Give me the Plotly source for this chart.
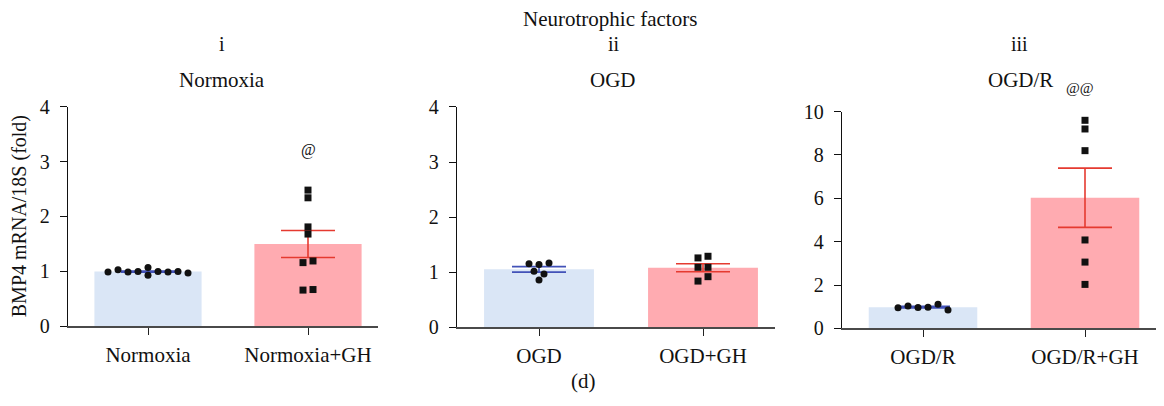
import numpy as np
import plotly.graph_objects as go

# ---- data: BMP4 mRNA / 18S (fold), individual replicates ----
groups_i = ["Normoxia", "Normoxia+GH"]
normoxia = [0.99, 1.03, 0.99, 1.00, 1.07, 0.93, 1.00, 0.99, 1.00, 0.97]
normoxia_gh = [2.48, 2.34, 1.81, 1.68, 1.16, 1.19, 0.66, 0.67]

groups_ii = ["OGD", "OGD+GH"]
ogd = [1.155, 1.14, 1.17, 1.02, 0.97, 0.86]
ogd_gh = [1.26, 1.29, 1.09, 1.09, 0.84, 0.92]

groups_iii = ["OGD/R", "OGD/R+GH"]
ogdr = [0.95, 1.03, 0.97, 0.98, 1.11, 0.85]
ogdr_gh = [9.6, 9.2, 8.2, 4.08, 3.06, 2.03]

y_ticks_small = [0, 1, 2, 3, 4]
y_ticks_large = [0, 2, 4, 6, 8, 10]

# ---- layout geometry (pixels) ----
W, H = 1164, 406
FONT = "Liberation Serif"
TXT = "#111111"
CTRL_FILL, GH_FILL = "#dae6f6", "#ffabb1"
CTRL_ERR, GH_ERR = "#4252b8", "#e53a30"

# (category-0 centre px, px per category unit, y=0 px, top px, y max, ticks)
panels = [
    dict(c0=148, sx=160, yb=333.4, yt=101.1, ymax=4, ticks=y_ticks_small,
         names=groups_i, data=[normoxia, normoxia_gh]),
    dict(c0=539, sx=164, yb=334.5, yt=101.4, ymax=4, ticks=y_ticks_small,
         names=groups_ii, data=[ogd, ogd_gh]),
    dict(c0=923, sx=162, yb=335.6, yt=106.4, ymax=10, ticks=y_ticks_large,
         names=groups_iii, data=[ogdr, ogdr_gh]),
]
XMIN, XMAX = -0.5, 1.44


def swarm_offsets(vals, py_per_unit, px_per_unit, row_px=6.5, step_px=10):
    """Spread replicates sideways, row by row, like a column scatter."""
    vals = list(vals)
    order = sorted(range(len(vals)), key=lambda i: -vals[i])
    rows, cur, top = [], [], None
    for i in order:
        if cur and (vals[top] - vals[i]) * py_per_unit < row_px:
            cur.append(i)
        else:
            if cur:
                rows.append(cur)
            cur, top = [i], i
    rows.append(cur)
    off = [0.0] * len(vals)
    for row in rows:
        row.sort()
        n = len(row)
        for k, i in enumerate(row):
            off[i] = (k - (n - 1) / 2) * step_px / px_per_unit
    return off


fig = go.Figure()

for p_idx, p in enumerate(panels, start=1):
    xa = "x" if p_idx == 1 else f"x{p_idx}"
    ya = "y" if p_idx == 1 else f"y{p_idx}"
    py_per_unit = (p["yb"] - p["yt"]) / p["ymax"]

    for g, vals in enumerate(p["data"]):
        arr = np.array(vals)
        mean = arr.mean()
        sem = arr.std(ddof=1) / np.sqrt(len(arr))
        fill = CTRL_FILL if g == 0 else GH_FILL
        err = CTRL_ERR if g == 0 else GH_ERR

        fig.add_trace(go.Bar(x=[g], y=[mean], width=0.67, marker_color=fill,
                             marker_line_width=0, xaxis=xa, yaxis=ya,
                             showlegend=False, hoverinfo="skip"))
        fig.add_trace(go.Scatter(x=[g], y=[mean], mode="markers",
                                 marker=dict(color="rgba(0,0,0,0)", size=1),
                                 error_y=dict(type="data", array=[sem], visible=True,
                                              width=27, thickness=1.6, color=err),
                                 xaxis=xa, yaxis=ya, showlegend=False,
                                 hoverinfo="skip"))
        offs = swarm_offsets(vals, py_per_unit, p["sx"])
        fig.add_trace(go.Scatter(x=[g + o for o in offs], y=vals, mode="markers",
                                 marker=dict(symbol="circle" if g == 0 else "square",
                                             size=7, color="#111111", line_width=0),
                                 xaxis=xa, yaxis=ya, showlegend=False,
                                 cliponaxis=False))

    x0 = (p["c0"] + XMIN * p["sx"]) / W
    x1 = (p["c0"] + XMAX * p["sx"]) / W
    y0 = 1 - p["yb"] / H
    y1 = 1 - p["yt"] / H
    fig.layout[f"xaxis{'' if p_idx == 1 else p_idx}"] = dict(
        domain=[x0, x1], range=[XMIN, XMAX], anchor=ya,
        tickvals=[0, 1], ticktext=p["names"], ticks="outside", ticklen=7,
        tickwidth=1.2, tickcolor="#222", showline=True, linecolor="#4a4a4a",
        linewidth=2, showgrid=False, zeroline=False, ticklabelstandoff=1,
        tickfont=dict(family=FONT, size=21, color=TXT), fixedrange=True)
    fig.layout[f"yaxis{'' if p_idx == 1 else p_idx}"] = dict(
        domain=[y0, y1], range=[0, p["ymax"]], anchor=xa,
        tickvals=p["ticks"], ticks="outside", ticklen=7, tickwidth=1.2,
        tickcolor="#111", showline=True, linecolor="#111", linewidth=1.3,
        showgrid=False, zeroline=False, ticklabelstandoff=6,
        tickfont=dict(family=FONT, size=20, color=TXT), fixedrange=True)


def note(text, px, py, size=21, angle=0):
    fig.add_annotation(text=text, x=px / W, y=1 - py / H, xref="paper",
                       yref="paper", showarrow=False, textangle=angle,
                       xanchor="center", yanchor="middle",
                       font=dict(family=FONT, size=size, color=TXT))


note("Neurotrophic factors", 610, 8)
for label, px in [("i", 222), ("ii", 614), ("iii", 1019)]:
    note(label, px, 35, size=20)
for label, px in [("Normoxia", 222), ("OGD", 613), ("OGD/R", 1020)]:
    note(label, px, 73)
note("@", 308, 147, size=16)
note("@@", 1080, 81, size=15)
note("(d)", 583, 391)
note("BMP4 mRNA/18S (fold)", 19, 217, size=20, angle=-90)

fig.update_layout(width=W, height=H, margin=dict(l=0, r=0, t=0, b=0),
                  paper_bgcolor="white", plot_bgcolor="white",
                  barmode="overlay", showlegend=False)

fig.write_html("out.html")
